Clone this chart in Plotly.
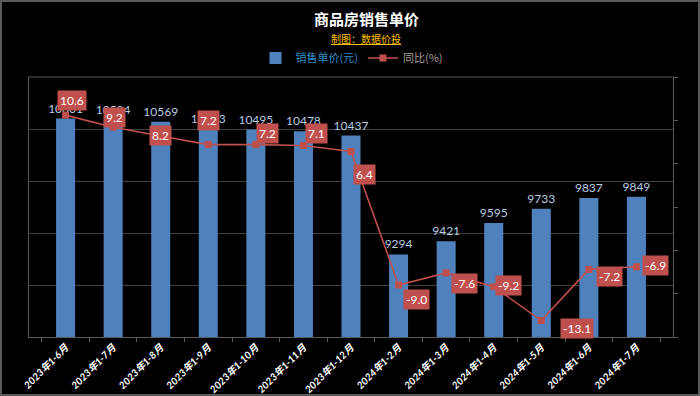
import plotly.graph_objects as go

categories = ["2023年1-6月", "2023年1-7月", "2023年1-8月", "2023年1-9月", "2023年1-10月",
              "2023年1-11月", "2023年1-12月", "2024年1-2月", "2024年1-3月", "2024年1-4月",
              "2024年1-5月", "2024年1-6月", "2024年1-7月"]
price = [10601, 10584, 10569, 10503, 10495, 10478, 10437, 9294, 9421, 9595, 9733, 9837, 9849]
yoy = [10.6, 9.2, 8.2, 7.2, 7.2, 7.1, 6.4, -9.0, -7.6, -9.2, -13.1, -7.2, -6.9]

# label offsets (px) for the YoY boxes: styling only
lab_dx = [6, 1, 0, 0, 12, 13, 13, 18, 18, 15, 36, 21, 19]
lab_dy = [15, 10, 0, 24, 11, 12, -23, -14, -11, 1, -8, -7, 1]

W, H = 700, 396
L, R, T, B = 29, 27, 77, 59
pw, ph = W - L - R, H - T - B

BAR = "#4F81BD"
RED = "#C0504D"
GRID = "#404040"
AX = "#5a5a5a"

fig = go.Figure()
fig.add_trace(go.Bar(
    x=categories, y=price, name='<span style="color:#2F8FC8">销售单价(元)</span>',
    marker=dict(color=BAR, line=dict(width=0)),
    text=[str(v) for v in price], textposition="outside", constraintext="none",
    textfont=dict(color="#B8CCE4", size=12, family="Lato, Noto Sans CJK SC"),
    cliponaxis=False, hoverinfo="skip",
))
fig.add_trace(go.Scatter(
    x=categories, y=yoy, name='<span style="color:#A89A9A">同比(%)</span>', yaxis="y2",
    mode="lines+markers",
    line=dict(color=RED, width=1.6),
    marker=dict(symbol="square", size=7, color=RED),
    cliponaxis=False, hoverinfo="skip",
))

annotations = []
for c, v, dx, dy in zip(categories, yoy, lab_dx, lab_dy):
    annotations.append(dict(
        x=c, y=v, xref="x", yref="y2", text=f"{v:.1f}", showarrow=False,
        xshift=dx, yshift=dy, bgcolor=RED, borderpad=2,
        font=dict(color="white", size=12, family="Lato, Noto Sans CJK SC"),
    ))

annotations.append(dict(
    x=(366 - L) / pw, y=(H - B - 19) / ph, xref="paper", yref="paper",
    text="<b>商品房销售单价</b>", showarrow=False,
    font=dict(color="white", size=15, family="Noto Sans CJK SC"),
    xanchor="center", yanchor="middle",
))
annotations.append(dict(
    x=(366 - L) / pw, y=(H - B - 38) / ph, xref="paper", yref="paper",
    text="<u>制图：数据价投</u>", showarrow=False,
    font=dict(color="#FFC000", size=10, family="Noto Sans CJK SC"),
    xanchor="center", yanchor="middle",
))

shapes = [
    dict(type="rect", xref="paper", yref="paper",
         x0=(-L + 1) / pw, x1=1 + (R - 1) / pw, y0=(-B + 1) / ph, y1=1 + (T - 1) / ph,
         line=dict(color="#5a5a5a", width=2), fillcolor="rgba(0,0,0,0)", layer="below"),
    dict(type="line", xref="paper", yref="paper", x0=0, x1=1, y0=1, y1=1,
         line=dict(color=AX, width=1)),
]

fig.update_layout(
    width=W, height=H,
    margin=dict(l=L, r=R, t=T, b=B, autoexpand=False),
    paper_bgcolor="black", plot_bgcolor="black",
    bargap=0.6,
    showlegend=True,
    hovermode=False,
    legend=dict(orientation="h", x=(352 - L) / pw, y=(H - B - 58) / ph,
                xanchor="center", yanchor="middle",
                font=dict(size=11, family="Noto Sans CJK SC", color="#A89A9A"),
                bgcolor="rgba(0,0,0,0)", itemwidth=30, tracegroupgap=0),
    xaxis=dict(
        type="category", showgrid=False, showline=True, linecolor=AX,
        ticks="outside", tickson="boundaries", ticklen=4, tickcolor=AX,
        tickangle=-45, automargin=False,
        tickfont=dict(color="white", size=10, family="Lato, Noto Sans CJK SC",
                      style="italic", weight="bold"),
    ),
    yaxis=dict(
        range=[8500, 11000], dtick=500, showticklabels=False, automargin=False,
        showgrid=True, gridcolor=GRID, gridwidth=1, zeroline=False,
        showline=True, linecolor=AX,
    ),
    yaxis2=dict(
        range=[-15, 15], dtick=5, overlaying="y", side="right", automargin=False,
        showticklabels=False, showgrid=False, zeroline=False,
        showline=True, linecolor=AX, ticks="outside", ticklen=4, tickcolor=AX,
    ),
    annotations=annotations,
    shapes=shapes,
)

fig.write_html("out.html", config={"displayModeBar": False, "staticPlot": True},
               post_script="document.body.style.margin='0';document.body.style.background='black';")
